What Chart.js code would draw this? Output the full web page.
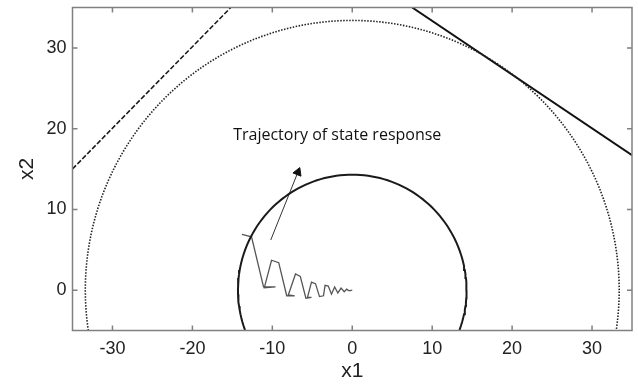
<!DOCTYPE html>
<html>
<head>
<meta charset="utf-8">
<script src="https://cdn.jsdelivr.net/npm/chart.js@4/dist/chart.umd.min.js"></script>
<style>
  html, body { margin: 0; padding: 0; background: #fff; }
  #wrap { width: 638px; height: 388px; }
</style>
</head>
<body>
<div id="wrap"><canvas id="plano" width="638" height="388"></canvas></div>
<script>
// ejes
var xTicks = [-30, -20, -10, 0, 10, 20, 30];
var yTicks = [0, 10, 20, 30];

// circulos centrados en el origen (radio)
var radioInterior = 14.3;
var radioExterior = 33.4;

// rectas
var rectaDiscontinua = [[-35, 15], [-15.2, 35]];
var rectaTangente = [[7.5, 35], [35, 16.7]];

// trayectoria de la respuesta de estado
var trayX = [-13.8, -12.6, -11.1, -9.6, -11.0, -10.1, -9.2, -8.2, -7.2, -8.0, -7.1, -6.5, -5.8, -5.1, -5.6, -5.1, -4.6, -4.1, -3.6, -3.4, -3.0, -2.6, -2.2, -1.8, -1.4, -1.0, -0.7, -0.4, 0];
var trayY = [6.9, 6.6, 0.4, 0.4, 0.3, 3.7, 3.4, -0.7, -0.7, -0.6, 2.0, 1.7, -1.0, -0.9, -0.9, 1.0, 0.8, -0.8, -0.7, 0.6, 0.5, -0.5, 0.4, -0.35, 0.25, -0.2, 0.12, -0.08, 0];

// flecha y texto
var flechaX = [-10.2, -6.8];
var flechaY = [6.2, 14.6];
var etiqueta = "Trajectory of state response";
var etiquetaPos = [-14.9, 19.1];

function puntos(xs, ys) {
  return xs.map(function (x, i) { return { x: x, y: ys[i] }; });
}

function circulo(r) {
  var pts = [];
  for (var k = 0; k <= 360; k += 2) {
    var a = k * Math.PI / 180;
    pts.push({ x: r * Math.cos(a), y: r * Math.sin(a) });
  }
  return pts;
}

function recta(p) {
  return p.map(function (q) { return { x: q[0], y: q[1] }; });
}

// marco gris con marcas hacia dentro y el texto
var marcoPlugin = {
  id: "marco",
  afterDatasetsDraw: function (chart) {
    var ctx = chart.ctx, a = chart.chartArea;
    var sx = chart.scales.x, sy = chart.scales.y;
    ctx.save();
    ctx.strokeStyle = "#808080";
    ctx.lineWidth = 1.5;
    ctx.strokeRect(a.left, a.top, a.right - a.left, a.bottom - a.top);
    ctx.beginPath();
    xTicks.forEach(function (v) {
      var px = sx.getPixelForValue(v);
      ctx.moveTo(px, a.bottom); ctx.lineTo(px, a.bottom - 5);
      ctx.moveTo(px, a.top); ctx.lineTo(px, a.top + 5);
    });
    yTicks.forEach(function (v) {
      var py = sy.getPixelForValue(v);
      ctx.moveTo(a.left, py); ctx.lineTo(a.left + 5, py);
      ctx.moveTo(a.right, py); ctx.lineTo(a.right - 5, py);
    });
    ctx.stroke();
    ctx.fillStyle = "#111";
    ctx.font = "16px 'Open Sans'";
    ctx.textAlign = "left";
    ctx.textBaseline = "middle";
    ctx.fillText(etiqueta, sx.getPixelForValue(etiquetaPos[0]), sy.getPixelForValue(etiquetaPos[1]));
    ctx.restore();
  }
};

var base = { showLine: true, pointRadius: 0, fill: false, tension: 0 };

new Chart(document.getElementById("plano"), {
  type: "scatter",
  data: {
    datasets: [
      Object.assign({}, base, { data: circulo(radioExterior), borderColor: "#222", borderWidth: 1.6, borderDash: [1.5, 1.5] }),
      Object.assign({}, base, { data: circulo(radioInterior), borderColor: "#1a1a1a", borderWidth: 2 }),
      Object.assign({}, base, { data: recta(rectaDiscontinua), borderColor: "#1a1a1a", borderWidth: 1.6, borderDash: [5, 2] }),
      Object.assign({}, base, { data: recta(rectaTangente), borderColor: "#111", borderWidth: 2 }),
      Object.assign({}, base, { data: puntos(trayX, trayY), borderColor: "#555", borderWidth: 1.3 }),
      Object.assign({}, base, {
        data: puntos(flechaX, flechaY), borderColor: "#333", borderWidth: 1,
        pointRadius: [0, 5], pointStyle: "triangle", rotation: 22,
        pointBackgroundColor: "#111", pointBorderColor: "#111", pointBorderWidth: 1
      })
    ]
  },
  options: {
    responsive: false,
    animation: false,
    layout: { padding: { left: 0, right: -1.7, top: 7.5, bottom: 0 } },
    plugins: { legend: { display: false }, tooltip: { enabled: false } },
    scales: {
      x: {
        type: "linear", min: -35, max: 35,
        afterBuildTicks: function (s) { s.ticks = xTicks.map(function (v) { return { value: v }; }); },
        afterFit: function (s) { s.height = 57.5; s.paddingLeft = 0; s.paddingRight = 0; },
        grid: { display: false, drawTicks: false },
        border: { display: false },
        ticks: { padding: 8, color: "#222", font: { family: "'Liberation Sans', Arial", size: 18 } },
        title: { display: true, text: "x1", color: "#222", padding: { top: 0, bottom: 3.7 }, font: { family: "'Liberation Sans', Arial", size: 21, lineHeight: 1.2 } }
      },
      y: {
        type: "linear", min: -5, max: 35,
        afterBuildTicks: function (s) { s.ticks = yTicks.map(function (v) { return { value: v }; }); },
        afterFit: function (s) { s.width = 72.5; s.paddingTop = 0; s.paddingBottom = 0; },
        grid: { display: false, drawTicks: false },
        border: { display: false },
        ticks: { padding: 6, color: "#222", font: { family: "'Liberation Sans', Arial", size: 18 } },
        title: { display: true, text: "x2", color: "#222", padding: { top: 14.4, bottom: 0 }, font: { family: "'Liberation Sans', Arial", size: 21, lineHeight: 1.2 } }
      }
    }
  },
  plugins: [marcoPlugin]
});
</script>
</body>
</html>
